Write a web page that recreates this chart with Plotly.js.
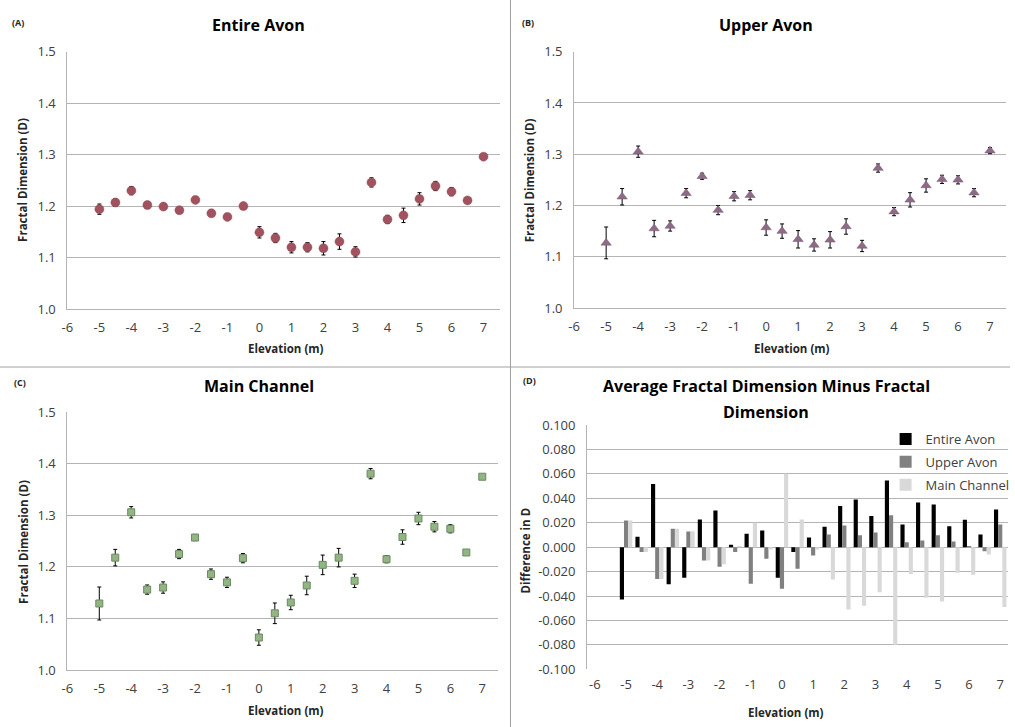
<!DOCTYPE html>
<html>
<head>
<meta charset="utf-8">
<script src="https://cdn.plot.ly/plotly-3.0.1.min.js"></script>
<style>html,body{margin:0;padding:0;background:#fff;overflow:hidden}#chart{position:absolute;left:0;top:0;width:1015px;height:727px}</style>
</head>
<body>
<div id="chart"></div>
<script>
// ---------- DATA ----------
const elevation = [-5,-4.5,-4,-3.5,-3,-2.5,-2,-1.5,-1,-0.5,0,0.5,1,1.5,2,2.5,3,3.5,4,4.5,5,5.5,6,6.5,7];

const entireD   = [1.194,1.207,1.230,1.202,1.199,1.192,1.212,1.186,1.179,1.200,1.149,1.138,1.120,1.120,1.118,1.131,1.111,1.246,1.174,1.182,1.214,1.239,1.228,1.211,1.296];
const entireErr = [0.010,0.007,0.008,0.004,0.004,0.005,0.005,0.005,0.005,0.004,0.011,0.009,0.011,0.009,0.013,0.015,0.010,0.009,0.008,0.014,0.012,0.009,0.008,0.004,0.003];

const upperD    = [1.127,1.217,1.305,1.155,1.160,1.224,1.257,1.191,1.218,1.220,1.157,1.150,1.134,1.123,1.133,1.159,1.121,1.273,1.188,1.211,1.239,1.251,1.250,1.225,1.307];
const upperErr  = [0.031,0.016,0.011,0.016,0.010,0.009,0.006,0.009,0.009,0.009,0.015,0.014,0.017,0.012,0.016,0.015,0.011,0.008,0.008,0.014,0.013,0.008,0.008,0.008,0.006];

const mainD     = [1.129,1.218,1.306,1.156,1.160,1.225,1.257,1.186,1.170,1.217,1.063,1.110,1.131,1.164,1.204,1.218,1.173,1.381,1.215,1.258,1.294,1.278,1.274,1.228,1.375];
const mainErr   = [0.032,0.016,0.011,0.009,0.011,0.009,0.006,0.010,0.010,0.009,0.015,0.020,0.014,0.018,0.019,0.018,0.013,0.010,0.007,0.014,0.012,0.010,0.008,0.003,0.003];

const diffEntire = [-0.0428,0.0085,0.0518,-0.0303,-0.0251,0.0226,0.0300,0.0020,0.0110,0.0136,-0.0250,-0.0040,0.0080,0.0166,0.0336,0.0390,0.0254,0.0546,0.0186,0.0366,0.0350,0.0172,0.0224,0.0104,0.0308];
const diffUpper  = [0.0218,-0.0040,-0.0260,0.0150,0.0128,-0.0110,-0.0160,-0.0040,-0.0300,-0.0095,-0.0340,-0.0177,-0.0068,0.0104,0.0177,0.0098,0.0120,0.0262,0.0041,0.0055,0.0098,0.0046,0.0010,-0.0033,0.0186];
const diffMain   = [0.0218,-0.0040,-0.0260,0.0150,0.0130,-0.0110,-0.0140,0.0010,0.0200,-0.0020,0.0600,0.0226,-0.0020,-0.0265,-0.0510,-0.0480,-0.0370,-0.0800,-0.0220,-0.0415,-0.0445,-0.0210,-0.0226,-0.0060,-0.0490];

const xTickVals = [-6,-5,-4,-3,-2,-1,0,1,2,3,4,5,6,7];
const xTickText = ["-6","-5","-4","-3","-2","-1","0","1","2","3","4","5","6","7"];
const dTickVals = [-0.1,-0.08,-0.06,-0.04,-0.02,0,0.02,0.04,0.06,0.08,0.1];
const dTickText = ["-0.100","-0.080","-0.060","-0.040","-0.020","0.000","0.020","0.040","0.060","0.080","0.100"];

// ---------- HELPERS (layout positions) ----------
const W = 1015, H = 727;
const fx = p => p / W;
const fy = p => 1 - p / H;
const FONT = "Open Sans, Liberation Sans, sans-serif";
const tickFont = {family: FONT, size: 13, color: "#404040"};
const gridC = "#B4B4B4";

function errBar(arr){ return {type:"data", array: arr, visible:true, color:"#000", thickness:1, width:2}; }

const traces = [
  {x: elevation, y: entireD, type:"scatter", mode:"markers", xaxis:"x", yaxis:"y", showlegend:false,
   marker:{symbol:"circle", size:9, color:"#A2515E", line:{color:"#8E4452", width:0.5}}, error_y: errBar(entireErr)},
  {x: elevation, y: upperD, type:"scatter", mode:"markers", xaxis:"x2", yaxis:"y2", showlegend:false,
   marker:{symbol:"triangle-up", size:9, color:"#8D6A86", line:{color:"#7A5873", width:0.5}}, error_y: errBar(upperErr)},
  {x: elevation, y: mainD, type:"scatter", mode:"markers", xaxis:"x3", yaxis:"y3", showlegend:false,
   marker:{symbol:"square", size:7, color:"#93B585", line:{color:"#6B8A60", width:1}}, error_y: errBar(mainErr)},
  {x: elevation, y: diffEntire, type:"bar", name:"Entire Avon", legendgroup:"a", xaxis:"x4", yaxis:"y4", marker:{color:"#000000"}},
  {x: elevation, y: diffUpper, type:"bar", name:"Upper Avon", legendgroup:"b", xaxis:"x4", yaxis:"y4", marker:{color:"#808080"}},
  {x: elevation, y: diffMain, type:"bar", name:"Main Channel", legendgroup:"c", xaxis:"x4", yaxis:"y4", marker:{color:"#D9D9D9"}}
];

function xAx(domain, range, anchor){
  return {domain: domain, range: range, anchor: anchor, tickmode:"array", tickvals: xTickVals, ticktext: xTickText,
    showgrid:false, zeroline:false, showline:true, linecolor:gridC, linewidth:1, ticks:"", tickfont: tickFont,
    ticklabelstandoff: 6, fixedrange:true};
}
function yAx(domain, anchor){
  return {domain: domain, range:[1.0,1.5], anchor: anchor, dtick:0.1, tick0:1.0, tickformat:".1f",
    showgrid:true, gridcolor:gridC, gridwidth:1, zeroline:false, showline:true, linecolor:gridC, linewidth:1,
    ticks:"", tickfont: tickFont, ticklabelstandoff: 8, fixedrange:true};
}

const layout = {
  width: W, height: H, autosize:false, margin:{l:0,r:0,t:0,b:0,pad:0}, paper_bgcolor:"#fff", plot_bgcolor:"#fff",
  font:{family: FONT, color:"#404040"},
  barmode:"group", bargap:0.2, bargroupgap:0,
  xaxis:  xAx([fx(67.7), fx(502)], [-6, 7.5], "y"),
  yaxis:  yAx([fy(309), fy(51.7)], "x"),
  xaxis2: xAx([fx(577), fx(1011)], [-6, 7.5], "y2"),
  yaxis2: yAx([fy(308), fy(51.7)], "x2"),
  xaxis3: xAx([fx(67.7), fx(500.7)], [-6, 7.5], "y3"),
  yaxis3: yAx([fy(670), fy(412.3)], "x3"),
  xaxis4: Object.assign(xAx([fx(590), fx(1013)], [-6.25, 7.25], "y4"), {showline:false}),
  yaxis4: {domain:[fy(669.3), fy(425)], range:[-0.1,0.1], anchor:"x4", tickmode:"array", tickvals:dTickVals, ticktext:dTickText,
    showgrid:true, gridcolor:gridC, gridwidth:1, zeroline:false, showline:true, linecolor:gridC, linewidth:1,
    ticks:"", tickfont: tickFont, ticklabelstandoff: 8, fixedrange:true},
  legend:{x: fx(890), y: fy(424), xanchor:"left", yanchor:"top", bgcolor:"rgba(0,0,0,0)", borderwidth:0,
    font:{family: FONT, size:13, color:"#404040"}, itemwidth:30, traceorder:"grouped", tracegroupgap:3},
  shapes:[
    {type:"rect", xref:"paper", yref:"paper", x0:fx(905), x1:fx(1014), y0:fy(490), y1:fy(428), fillcolor:"#fff", line:{width:0}, layer:"between"},
    {type:"line", xref:"paper", yref:"paper", x0:fx(513), x1:fx(513), y0:0, y1:1, line:{color:"#A0A0A0", width:1}},
    {type:"line", xref:"paper", yref:"paper", x0:0, x1:1, y0:fy(367), y1:fy(367), line:{color:"#A0A0A0", width:1}}
  ],
  annotations:[]
};

function ann(text, x, y, size, bold, angle){
  layout.annotations.push({text: bold ? "<b>"+text+"</b>" : text, xref:"paper", yref:"paper", x: fx(x), y: fy(y),
    xanchor:"center", yanchor:"middle", showarrow:false, textangle: angle||0,
    font:{family: FONT, size: size, color: bold && size>14 ? "#000" : "#262626"}});
}
// panel letters
ann("(A)", 18, 22, 9, true); ann("(B)", 531, 22, 9, true); ann("(C)", 20, 382, 9, true); ann("(D)", 532, 381, 9, true);
// titles
ann("Entire Avon", 260, 25, 16, true);
ann("Upper Avon", 770, 25, 16, true);
ann("Main Channel", 260, 386, 16, true);
ann("Average Fractal Dimension Minus Fractal", 770, 386, 16, true);
ann("Dimension", 770, 412, 16, true);
// axis titles
ann("Fractal Dimension (D)", 23, 180, 11.5, true, -90);
ann("Fractal Dimension (D)", 533, 180, 11.5, true, -90);
ann("Fractal Dimension (D)", 23, 542, 11.5, true, -90);
ann("Difference in D", 528, 550, 11.5, true, -90);
ann("Elevation (m)", 287, 349, 11.5, true);
ann("Elevation (m)", 796, 349, 11.5, true);
ann("Elevation (m)", 287, 710, 11.5, true);
ann("Elevation (m)", 790, 712, 11.5, true);

Plotly.newPlot("chart", traces, layout, {staticPlot:true, displayModeBar:false});
</script>
</body>
</html>
